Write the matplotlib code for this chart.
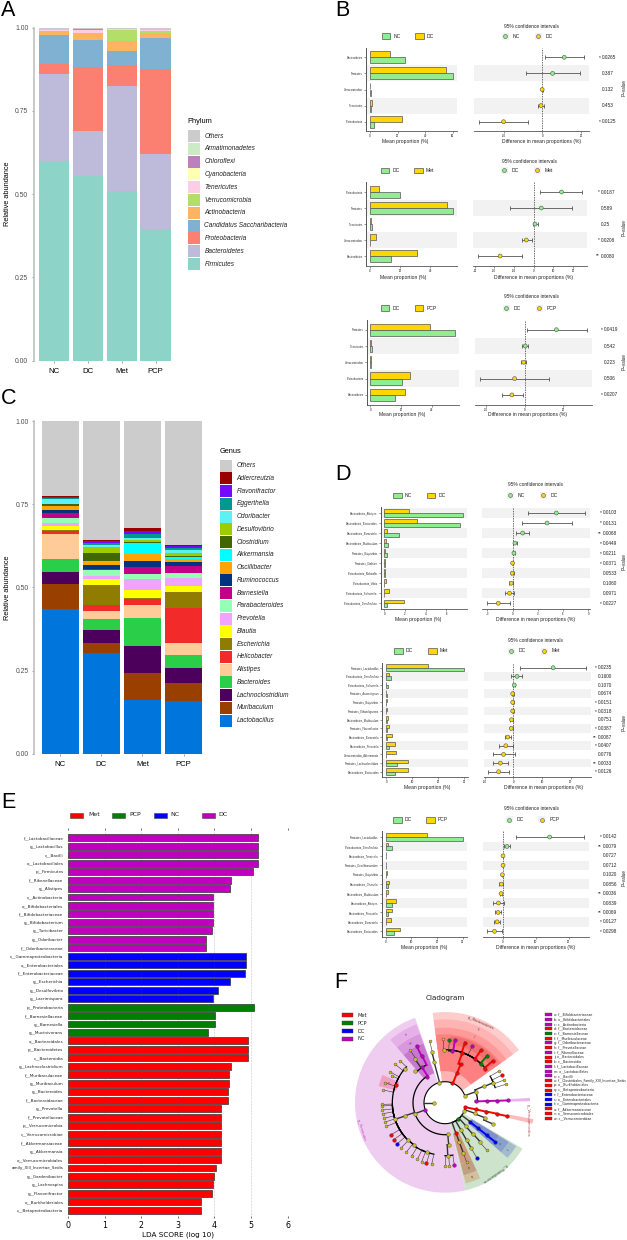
import numpy as np
import matplotlib
matplotlib.use('Agg')
import matplotlib.pyplot as plt
from matplotlib.patches import Rectangle

plt.rcParams['font.family'] = ['Liberation Sans', 'DejaVu Sans']

W, H = 627, 1240
GREEN = '#90EE90'
GOLD = '#FFD700'
BAND = '#F2F2F2'

# panel A
groups = ['NC', 'DC', 'Met', 'PCP']
phyla = ['Firmicutes', 'Bacteroidetes', 'Proteobacteria', 'Candidatus Saccharibacteria', 'Actinobacteria',
         'Verrucomicrobia', 'Tenericutes', 'Cyanobacteria', 'Chloroflexi', 'Armatimonadetes', 'Others']
phyla_colors = ['#8DD3C7', '#BEBADA', '#FB8072', '#80B1D3', '#FDB462', '#B3DE69', '#FCCDE5', '#FFFFB3',
                '#BC80BD', '#CCEBC5', '#CCCCCC']
firmicutes = [.599, .554, .511, .395]
bacteroidetes = [.262, .137, .314, .227]
proteobacteria = [.030, .190, .062, .253]
saccharibacteria = [.087, .083, .043, .095]
actinobacteria = [.012, .020, .030, .015]
verrucomicrobia = [.000, .001, .033, .006]
tenericutes = [.004, .009, .002, .001]
cyanobacteria = [.000, .000, .000, .000]
chloroflexi = [.000, .001, .000, .000]
armatimonadetes = [.000, .001, .000, .000]
phyla_others = [.006, .004, .005, .008]
phyla_values = [firmicutes, bacteroidetes, proteobacteria, saccharibacteria, actinobacteria, verrucomicrobia,
                tenericutes, cyanobacteria, chloroflexi, armatimonadetes, phyla_others]

# panel C, cumulative tops
genera = ['Lactobacillus', 'Muribaculum', 'Lachnoclostridium', 'Bacteroides', 'Alistipes', 'Helicobacter',
          'Escherichia', 'Blautia', 'Prevotella', 'Parabacteroides', 'Barnesiella', 'Ruminococcus',
          'Oscillibacter', 'Akkermansia', 'Clostridium', 'Desulfovibrio', 'Odoribacter', 'Eggerthella',
          'Flavonifractor', 'Adlercreutzia', 'Others']
genera_colors = ['#0075DC', '#993F00', '#4C005C', '#2BCE48', '#FFCC99', '#F22A2A', '#8F7C00', '#FFFF00',
                 '#F0A3FF', '#94FFB5', '#C20088', '#003380', '#FFA405', '#00FFFF', '#426600', '#9DCC00',
                 '#5EF1F2', '#00998F', '#740AFF', '#990000', '#CCCCCC']
tops_nc = [.436, .510, .545, .586, .661, .670, .671, .684, .693, .709, .723, .732, .744, .744, .751, .752,
           .767, .768, .771, .774, 1]
tops_dc = [.302, .334, .372, .406, .430, .447, .507, .525, .534, .552, .554, .567, .577, .578, .603, .621,
           .626, .633, .638, .642, 1]
tops_met = [.161, .242, .325, .408, .447, .464, .468, .492, .524, .541, .561, .579, .600, .632, .635, .642,
            .648, .659, .668, .678, 1]
tops_pcp = [.158, .214, .257, .297, .334, .438, .486, .505, .529, .543, .564, .575, .585, .591, .595, .603,
            .612, .618, .625, .628, 1]

# panel B
b1_names = ['Bacteroidetes', 'Firmicutes', 'Verrucomicrobia', 'Tenericutes', 'Proteobacteria']
b1_a = [25.7, 60.5, 0.8, 0.5, 3]
b1_b = [14.3, 55, 0.1, 1.3, 23]
b1_diff = [11.3, 5.3, -0.1, -0.7, -20]
b1_lo = [1.5, -8.2, -0.4, -2, -32.8]
b1_hi = [21.3, 19.2, 0.2, 1, -7.2]
b1_p = ['* 0.0265', '0.387', '0.132', '0.453', '* 0.0125']

b2_names = ['Proteobacteria', 'Firmicutes', 'Tenericutes', 'Verrucomicrobia', 'Bacteroidetes']
b2_a = [20, 55, 1.3, 0.4, 14]
b2_b = [6, 51, 0.6, 4, 31]
b2_diff = [14.2, 3.9, 0.7, -3.7, -17]
b2_lo = [3.5, -11.9, -0.5, -6.1, -28.3]
b2_hi = [24.7, 19.7, 2.2, -0.7, -5.8]
b2_p = ['* 0.0187', '0.589', '0.25', '* 0.0208', '** 0.0080']

b3_names = ['Firmicutes', 'Tenericutes', 'Verrucomicrobia', 'Proteobacteria', 'Bacteroidetes']
b3_a = [55, 0.9, 0.2, 20.4, 16]
b3_b = [39, 0.7, 0.7, 25.7, 22.4]
b3_diff = [16.4, 0.3, -0.5, -5.2, -6.6]
b3_lo = [1, -1.2, -1.7, -23, -11.9]
b3_hi = [32, 1.9, 0.7, 12.4, -1]
b3_p = ['* 0.0419', '0.542', '0.223', '0.506', '* 0.0207']

# panel D
d1_names = ['Bacteroidetes_Alistipes', 'Bacteroidetes_Bacteroides', 'Bacteroidetes_Barnesiella',
            'Bacteroidetes_Muribaculum', 'Firmicutes_Butyrivibrio', 'Firmicutes_Dialister',
            'Proteobacteria_Klebsiella', 'Proteobacteria_Vibrio', 'Proteobacteria_Salmonella',
            'Proteobacteria_Desulfovibrio']
d1_a = [7.6, 7.3, 1.4, 0.39, 0.23, 0.03, 0.03, 0.01, 0.01, 0.23]
d1_b = [2.4, 3.2, 0.26, 0.13, 0.1, 0.03, 0.06, 0.2, 0.42, 1.9]
d1_diff = [5.2, 4.1, 1.2, 0.28, 0.16, 0, -0.04, -0.16, -0.36, -1.7]
d1_lo = [1.8, 1.15, 0.44, 0, 0.06, -0.03, -0.19, -0.4, -0.87, -3.05]
d1_hi = [8.6, 7.1, 1.9, 0.55, 0.26, 0.03, 0.11, 0.08, 0.12, -0.36]
d1_p = ['* 0.0103', '* 0.0131', '** 0.0068', '* 0.0449', '* 0.0211', '* 0.0371', '0.0533', '0.1060', '0.0971',
        '* 0.0227']

d2_names = ['Firmicutes_Lactobacillus', 'Proteobacteria_Desulfovibrio', 'Proteobacteria_Salmonella',
            'Firmicutes_Anaerotignum', 'Firmicutes_Butyrivibrio', 'Firmicutes_Ethanoligenens',
            'Bacteroidetes_Muribaculum', 'Firmicutes_Flavonifractor', 'Bacteroidetes_Barnesiella',
            'Bacteroidetes_Prevotella', 'Verrucomicrobia_Akkermansia', 'Firmicutes_Lachnoclostridium',
            'Bacteroidetes_Bacteroides']
d2_a = [30, 2, 0.5, 0.2, 0.1, 0.1, 0.2, 0.4, 0.3, 0.9, 0.1, 4, 3.2]
d2_b = [16.2, 0.9, 0.1, 0.1, 0.2, 0.2, 0.7, 1.2, 2.1, 3.3, 3.6, 8.2, 8.2]
d2_diff = [13.9, 1.3, 0.35, -0.2, -0.2, -0.2, -0.6, -0.7, -1.9, -2.6, -3.4, -4.5, -5.1]
d2_lo = [2.4, -0.7, 0.05, -0.5, -0.5, -0.5, -1.1, -1.3, -2.8, -4.8, -7.2, -7, -8.7]
d2_hi = [25.3, 3.1, 0.65, 0.1, 0.1, 0.1, -0.1, -0.1, -0.9, -0.2, 0.5, -2, -1.4]
d2_p = ['* 0.0235', '0.1600', '0.1070', '0.0674', '* 0.0151', '* 0.0318', '0.0751', '* 0.0387', '** 0.0087',
        '* 0.0407', '0.0776', '** 0.0033', '* 0.0126']

d3_names = ['Firmicutes_Lactobacillus', 'Proteobacteria_Desulfovibrio', 'Bacteroidetes_Tannerella',
            'Firmicutes_Desulfitomaculum', 'Firmicutes_Butyrivibrio', 'Bacteroidetes_Olsenella',
            'Bacteroidetes_Muribaculum', 'Bacteroidetes_Alistipes', 'Bacteroidetes_Prevotella',
            'Bacteroidetes_Barnesiella', 'Bacteroidetes_Bacteroides']
d3_a = [30.3, 2.3, 0.1, 0.1, 0.3, 0.8, 0.2, 2.5, 0.9, 0.1, 3.1]
d3_b = [16, 1, 0.1, 0.1, 0.4, 1.1, 0.8, 3.9, 2.3, 2, 5.6]
d3_diff = [14.2, 1.2, 0, 0, -0.2, -0.5, -0.6, -1.4, -1.5, -1.8, -2.6]
d3_lo = [3.8, 0.4, -0.1, -0.1, -0.35, -1.1, -0.8, -3.1, -2.5, -2.9, -4.8]
d3_hi = [24.8, 2, 0.1, 0.1, -0.05, 0.1, -0.4, 0.2, -0.5, -0.8, -0.2]
d3_p = ['* 0.0142', '** 0.0079', '0.0727', '0.0712', '0.1020', '0.0856', '** 0.0036', '0.0839', '** 0.0069',
        '* 0.0127', '* 0.0298']

# panel E
lda_names = ['f__Lactobacillaceae', 'g__Lactobacillus', 'c__Bacilli', 'o__Lactobacillales', 'p__Firmicutes',
             'f__Rikenellaceae', 'g__Alistipes', 'c__Actinobacteria', 'o__Bifidobacteriales',
             'f__Bifidobacteriaceae', 'g__Bifidobacterium', 'g__Turicibacter', 'g__Odoribacter',
             'f__Odoribacteraceae', 'c__Gammaproteobacteria', 'o__Enterobacteriales', 'f__Enterobacteriaceae',
             'g__Escherichia', 'g__Desulfovibrio', 'g__Lacrimispora', 'p__Proteobacteria', 'f__Barnesiellaceae',
             'g__Barnesiella', 'g__Mucinivorans', 'o__Bacteroidales', 'p__Bacteroidetes', 'c__Bacteroidia',
             'g__Lachnoclostridium', 'f__Muribaculaceae', 'g__Muribaculum', 'g__Bacteroides', 'f__Bacteroidaceae',
             'g__Prevotella', 'f__Prevotellaceae', 'p__Verrucomicrobia', 'c__Verrucomicrobiae',
             'f__Akkermansiaceae', 'g__Akkermansia', 'o__Verrucomicrobiales', 'amily_XIII_Incertae_Sedis',
             'g__Gardenibacter', 'g__Lachnospira', 'g__Flavonifractor', 'o__Burkholderiales',
             'c__Betaproteobacteria']
lda_scores = [5.2, 5.2, 5.18, 5.18, 5.05, 4.44, 4.43, 3.95, 3.95, 3.95, 3.95, 3.94, 3.76, 3.76,
              4.85, 4.85, 4.84, 4.43, 4.11, 3.95,
              5.07, 4.03, 4.03, 3.82,
              4.93, 4.93, 4.93, 4.44, 4.39, 4.39, 4.36, 4.36, 4.18, 4.18, 4.17, 4.17, 4.17, 4.17, 4.17,
              4.05, 3.99, 3.95, 3.93, 3.63, 3.63]
lda_groups = ['DC'] * 14 + ['NC'] * 6 + ['PCP'] * 4 + ['Met'] * 21
lda_colors = {'Met': '#FF0000', 'PCP': '#007F00', 'NC': '#0000FF', 'DC': '#BF00BF'}

# panel F
clade_legend = ['a: f__Bifidobacteriaceae', 'b: o__Bifidobacteriales', 'c: c__Actinobacteria', 'd: f__Bacteroidaceae',
                'e: f__Barnesiellaceae', 'f: f__Muribaculaceae', 'g: f__Odoribacteraceae', 'h: f__Prevotellaceae',
                'i: f__Rikenellaceae', 'j: o__Bacteroidales', 'k: c__Bacteroidia', 'l: f__Lactobacillaceae',
                'm: o__Lactobacillales', 'n: c__Bacilli', 'o: f__Clostridiales_Family_XIII_Incertae_Sedis',
                'p: o__Burkholderiales', 'q: c__Betaproteobacteria', 'r: f__Enterobacteriaceae',
                's: o__Enterobacteriales', 't: c__Gammaproteobacteria', 'u: f__Akkermansiaceae',
                'v: o__Verrucomicrobiales', 'w: c__Verrucomicrobiae']
clade_legend_groups = ['DC', 'DC', 'DC', 'Met', 'PCP', 'Met', 'DC', 'Met', 'DC', 'Met', 'Met', 'DC', 'DC', 'DC',
                       'Met', 'Met', 'Met', 'NC', 'NC', 'NC', 'Met', 'Met', 'Met']

# shaded clades: theta from, theta to, inner, outer radius, colour
sector_from = [109.4, 35.4, -76.8, 35.4, 35.4, 35.4, 110, 110, 110, 156, -41.5, -41.5, -41.5, -75.6, -75.6, -75.6,
               -13.5, 1, 38]
sector_to = [283.2, 97.8, -30.6, 97.8, 97.8, 97.8, 131, 131, 131, 166, -31.5, -31.5, -31.5, -65, -65, -65,
             -10.5, 3.2, 85]
sector_inner = [63, 63, 63, 63, 95, 95, 94, 190, 220, 150, 94, 190, 225, 96, 190, 225, 190, 190, 175]
sector_outer = [270, 272, 270, 250, 225, 205, 190, 220, 250, 205, 190, 225, 250, 190, 225, 250, 270, 255, 200]
sector_color = ['#EFCDF0', '#FFCCCC', '#CDE3CC', '#FFB3B3', '#FF9A9A', '#FF8080', '#C878D0', '#D898DE', '#E5B0E8',
                '#F0A0C0', '#7F8FD0', '#8AA0CC', '#A3BBCC', '#D09A80', '#C0A080', '#D0C0A0', '#FFBBBB', '#F0B0F0',
                '#F07070']

# tree paths as (theta, level, group), first entry of a path is its parent
O = 'Other'
tree_paths = [
    [(180, 63, None), (180, 32, O)],
    [(201, 63, None), (201, 64, 'DC'), (200, 96, O)],
    [(200, 96, O), (124, 94, 'DC'), (123, 126, 'DC'), (116, 157, 'DC'), (116.6, 190, 'DC')],
    [(123, 126, 'DC'), (124.5, 159, O), (123.6, 190, O)],
    [(123, 126, 'DC'), (133, 130, O)],
    [(200, 96, O), (275, 94, O), (275, 127, O), (273, 159, O), (270, 189, O)],
    [(273, 159, O), (274, 190, O)],
    [(273, 159, O), (278.5, 189, 'DC')],
    [(200, 96, O), (198, 126, O), (198.4, 158, O), (181.5, 190, O)],
    [(198.4, 158, O), (183, 190, O)], [(198.4, 158, O), (186.7, 190, O)], [(198.4, 158, O), (190, 190, O)],
    [(198.4, 158, O), (194.4, 190, O)], [(198.4, 158, O), (197.9, 190, O)], [(198.4, 158, O), (202, 190, O)],
    [(198.4, 158, O), (210.7, 190, 'Met')], [(198.4, 158, O), (215.8, 190, 'Met')],
    [(198.4, 158, O), (220.7, 190, 'NC')], [(198.4, 158, O), (225.8, 190, O)],
    [(198.4, 158, O), (160, 158, 'Met'), (150.6, 189, O)], [(160, 158, 'Met'), (153, 179, O)],
    [(160, 158, 'Met'), (161.6, 190, O)], [(160, 158, 'Met'), (168.4, 189, O)],
    [(160, 158, 'Met'), (140, 158, O), (142.5, 189, O)], [(140, 158, O), (137, 184, O)],
    [(198.4, 158, O), (225.5, 157, O), (232, 189, O)],
    [(225.5, 157, O), (233.7, 159, O), (238, 189, O)],
    [(233.7, 159, O), (250.4, 158, O), (244, 189, O)], [(250.4, 158, O), (248.4, 190, O)],
    [(250.4, 158, O), (253, 190, 'Met')], [(250.4, 158, O), (257.8, 189, O)],
    [(106, 63, None), (106, 60, O), (105, 126, O), (104.5, 158, O), (104, 191, O)],
    [(70, 63, None), (70, 63, 'Met'), (68, 95, 'Met'), (67.8, 124, 'Met'), (71, 159, 'Met'), (71.6, 190, 'Met')],
    [(71, 159, 'Met'), (91.5, 158, O), (91.5, 190, O)],
    [(71, 159, 'Met'), (82.7, 156, 'DC'), (86, 190, 'PCP')],
    [(82.7, 156, 'DC'), (81, 190, 'DC')],
    [(71, 159, 'Met'), (55.5, 159, 'Met'), (64.3, 190, 'DC')],
    [(55.5, 159, 'Met'), (55.6, 190, 'Met')],
    [(71, 159, 'Met'), (47.3, 158, 'PCP'), (48, 190, 'PCP')],
    [(71, 159, 'Met'), (40.4, 157, 'Met'), (41.2, 190, 'Met')],
    [(18, 63, None), (18, 63, O), (19.7, 98, O), (23, 126, O), (22.5, 157, O), (30.4, 188, O)],
    [(22.5, 157, O), (25.8, 189, 'Met')], [(22.5, 157, O), (21, 190, O)], [(22.5, 157, O), (16.8, 190, O)],
    [(19.7, 98, O), (2.5, 92, 'DC'), (2.3, 125, 'DC'), (2.2, 157, 'DC'), (2.1, 189, 'DC')],
    [(-12, 63, None), (-12, 62, 'Met'), (-12.3, 94, 'Met'), (-12.3, 127, 'Met'), (-12, 158, 'Met'), (-12.2, 189, 'Met')],
    [(-24, 63, None), (-24, 64, O), (-19.6, 96, O), (-20.6, 128, O), (-24, 159, O)],
    [(-51, 63, None), (-51, 63, 'PCP'), (-37, 94, 'NC'), (-37.6, 126, 'NC'), (-37.8, 158, 'NC'), (-38, 190, 'NC')],
    [(-51, 63, 'PCP'), (-48, 95, O), (-48.6, 125, O), (-48, 157, O), (-48.6, 189, O)],
    [(-51, 63, 'PCP'), (-59.7, 95, O), (-60, 130, O), (-60, 158, O), (-60, 190, 'NC')],
    [(-51, 63, 'PCP'), (-70.4, 96, 'Met'), (-70, 127, O), (-70, 160, O), (-70, 190, O)],
]
sector_labels = ['p__Bacteroidetes', 'p__Firmicutes', 'p__Proteobacteria', 'p__Verrucomicrobia', 'k', 'j', 'n', 'm',
                 'o', 't', 's', 'q', 'p']
label_theta = [66, 198, -54.7, -11.7, 66, 66, 120, 120, 161, -36.5, -36.5, -70, -70]
label_r = [262, 263, 260, 255, 240, 218, 235, 205, 178, 238, 208, 238, 208]
label_rot = [-24, -72, 215, -90, -24, -24, 30, 30, 0, 53, 53, 20, 20]
label_color = ['#663333', '#C040C0', '#335533', '#A04050', '#884444', '#884444', '#883388', '#883388', '#883355',
               '#334466', '#334466', '#664433', '#664433']


fig = plt.figure(figsize=(W / 100, H / 100), dpi=100)


def px_axes(x0, x1, y0, y1, **kw):
    return fig.add_axes([x0 / W, 1 - y1 / H, (x1 - x0) / W, (y1 - y0) / H], **kw)


ov = fig.add_axes([0, 0, 1, 1], zorder=10)
ov.set_xlim(0, W)
ov.set_ylim(H, 0)
ov.axis('off')


def stack_axes(x0, x1, y0, y1, xlim):
    ax = px_axes(x0, x1, y0, y1)
    ax.set_xlim(*xlim)
    ax.set_ylim(0, 1)
    for s in ['top', 'right', 'bottom']:
        ax.spines[s].set_visible(False)
    ax.spines['left'].set_color('#BBBBBB')
    ax.spines['left'].set_linewidth(1.1)
    ax.set_yticks([0, .25, .5, .75, 1])
    ax.set_yticklabels(['0.00', '0.25', '0.50', '0.75', '1.00'], fontsize=4.9, color='#4D4D4D')
    ax.set_xticks(range(4))
    ax.set_xticklabels(groups, fontsize=5.6)
    ax.tick_params(axis='y', length=1.6, width=0.4, color='#555555', pad=2.5)
    ax.tick_params(axis='x', length=1.6, width=0.4, color='#555555', pad=4)
    ax.set_ylabel('Relative abundance', fontsize=5.3, labelpad=0)
    ax.yaxis.set_label_coords((11 - x0) / (x1 - x0), 0.5)
    return ax


def italic_legend(x, y, title, labels, colors, step):
    ov.text(x - 0.5, y - 14.5, title, fontsize=5.3, va='center')
    for i, (lab, col) in enumerate(zip(labels, colors)):
        yy = y + step * i
        ov.add_patch(Rectangle((x, yy - 6), 12, 12, fc=col, ec='none'))
        ov.text(x + 16.5, yy, lab, fontsize=4.7, style='italic', color='#222222', va='center')


# A
ax = stack_axes(34, 175, 27.7, 360.7, (-0.59, 3.57))
bottom = np.zeros(4)
for vals, col in zip(phyla_values, phyla_colors):
    ax.bar(range(4), vals, bottom=bottom, width=0.9, color=col)
    bottom += np.array(vals)
italic_legend(188, 136, 'Phylum', phyla[::-1], phyla_colors[::-1], 12.8)

# C
ax = stack_axes(34.3, 205, 421, 753.7, (-0.63, 3.52))
tops = np.array([tops_nc, tops_dc, tops_met, tops_pcp])
prev = np.zeros(4)
for j, col in enumerate(genera_colors):
    ax.bar(range(4), tops[:, j] - prev, bottom=prev, width=0.9, color=col)
    prev = tops[:, j]
italic_legend(220, 465.7, 'Genus', genera[::-1], genera_colors[::-1], 12.75)


def compare_panel(names, a, b, diff, lo, hi, pvals, pair, top, bottom, first, dy, lx, lxlim, lticks, rx, rxlim,
                  rticks, shade_from, p_x, title_y, legend_y, keys, marks, title_x, xlabel_y, xlabel_x, pv_y):
    n = len(names)
    y = np.arange(n)
    ylim = ((bottom - first) / dy, (top - first) / dy)
    left = px_axes(lx[0], lx[1], top, bottom)
    right = px_axes(rx[0], rx[1], top, bottom)
    for ax_, xlim, ticks in [(left, lxlim, lticks), (right, rxlim, rticks)]:
        ax_.set_xlim(*xlim)
        ax_.set_ylim(*ylim)
        ax_.set_xticks(ticks)
        ax_.set_xticklabels([str(t) for t in ticks], fontsize=2)
        ax_.tick_params(length=1.3, width=0.4, pad=1, color='#444444')
        for s in ['top', 'right']:
            ax_.spines[s].set_visible(False)
        ax_.spines['bottom'].set_linewidth(0.6)
        ax_.spines['bottom'].set_color('#555555')
        ax_.spines['left'].set_linewidth(0.7)
        ax_.spines['left'].set_color('#555555')
        for r in y[shade_from::2]:
            ax_.axhspan(r - 0.5, r + 0.5, color=BAND, lw=0, zorder=0)
    left.set_yticks(y)
    left.set_yticklabels(names, fontsize=1.9, color='#333333')
    left.barh(y - 0.19, b, height=0.37, color=GOLD, edgecolor='#555555', linewidth=0.5, zorder=2)
    left.barh(y + 0.19, a, height=0.37, color=GREEN, edgecolor='#555555', linewidth=0.5, zorder=2)
    right.spines['left'].set_visible(False)
    right.set_yticks([])
    right.axvline(0, color='#333333', lw=0.5, ls=(0, (2, 1.5)), zorder=1)
    diff = np.array(diff)
    right.errorbar(diff, y, xerr=[diff - np.array(lo), np.array(hi) - diff], fmt='none', ecolor='#555555',
                   elinewidth=0.6, capsize=1.7, capthick=0.6, zorder=2)
    right.scatter(diff, y, s=8, c=[GREEN if d > 0 else GOLD for d in diff], edgecolors='#555555', linewidths=0.4,
                  zorder=3)
    for r, txt in zip(y, pvals):
        parts = txt.split(' ')
        frac = (p_x - rx[0]) / (rx[1] - rx[0])
        right.text(frac, r, parts[-1], fontsize=3.4, va='center', transform=right.get_yaxis_transform(), color='#222222')
        if len(parts) > 1:
            right.text(frac - 1.2 / (rx[1] - rx[0]), r, parts[0], fontsize=3.4, va='center', ha='right',
                       transform=right.get_yaxis_transform(), color='#222222')
    # titles and legends sit on the overlay
    ov.text(title_x, title_y, '95% confidence intervals', fontsize=3.5, ha='center', va='center', color='#222222')
    for key, name, col in zip(keys, pair, [GREEN, GOLD]):
        ov.add_patch(Rectangle((key, legend_y - 2.8), 8.7, 5.6, fc=col, ec='#555555', lw=0.5))
        ov.text(key + 11.7, legend_y, name, fontsize=3.6, va='center', color='#222222')
    for mark, name, col in zip(marks, pair, [GREEN, GOLD]):
        ov.add_patch(Rectangle((mark - 3.5, legend_y - 3.5), 7, 7, fc=BAND, ec='none'))
        ov.scatter([mark], [legend_y], s=8, c=col, edgecolors='#555555', linewidths=0.4)
        ov.text(mark + 7.5, legend_y, name, fontsize=3.6, va='center', color='#222222')
    ov.text(xlabel_x[0], xlabel_y, 'Mean proportion (%)', fontsize=3.6, ha='center', va='center', color='#222222')
    ov.text(xlabel_x[1], xlabel_y, 'Difference in mean proportions (%)', fontsize=3.6, ha='center', va='center',
            color='#222222')
    ov.text(624, pv_y, 'P\u2212value', fontsize=3.3, rotation=90, ha='center', va='center', color='#222222')


compare_panel(b1_names, b1_a, b1_b, b1_diff, b1_lo, b1_hi, b1_p, ['NC', 'DC'], 48, 131, 57.3, 16.1,
              (365.7, 457), (-3.1, 63.1), [0, 20, 40, 60], (473.7, 588.7), (-35.4, 23.9), [-20, 0, 20], 1, 602,
              27, 36, (381.7, 415), (505.3, 538.3), 531.7, 142, (405, 541), 88)
compare_panel(b2_names, b2_a, b2_b, b2_diff, b2_lo, b2_hi, b2_p, ['DC', 'Met'], 182, 265.7, 192, 16,
              (365.7, 456.7), (-2.6, 57.4), [0, 20, 40], (473, 587.3), (-30.8, 27.3), [-30, -20, -10, 0, 10, 20], 1, 601,
              161.7, 170.3, (380.7, 414.3), (504, 537), 529.3, 277.3, (403, 533), 228)
compare_panel(b3_names, b3_a, b3_b, b3_diff, b3_lo, b3_hi, b3_p, ['DC', 'PCP'], 320, 404.7, 329.7, 16.3,
              (366.7, 459), (-2.4, 57.8), [0, 20, 40], (475.3, 592), (-25.5, 34.8), [-20, 0, 20], 1, 603.7,
              297, 308, (380.7, 414.7), (506, 539.3), 532, 414.7, (402, 527.7), 362)
compare_panel(d1_names, d1_a, d1_b, d1_diff, d1_lo, d1_hi, d1_p, ['NC', 'DC'], 506.7, 609.3, 513, 10.03,
              (380.7, 466.7), (-.35, 7.97), [0, 2, 4, 6], (482.3, 589.7), (-3.6, 9.17), [-3, 0, 3, 6, 9], 0, 603,
              484.3, 495.3, (393.3, 426.7), (510.3, 543.3), 535.3, 620, (417.7, 535), 561.7)
compare_panel(d2_names, d2_a, d2_b, d2_diff, d2_lo, d2_hi, d2_p, ['DC', 'Met'], 662.7, 777.3, 667.7, 8.67,
              (382.3, 467.7), (-1.5, 31.3), [0, 10, 20, 30], (484, 591), (-10.2, 27.1), [-10, 0, 10, 20], 1, 598.3,
              640, 651, (394.3, 428.3), (511, 544.3), 535.3, 788, (427, 543), 723)
compare_panel(d3_names, d3_a, d3_b, d3_diff, d3_lo, d3_hi, d3_p, ['DC', 'PCP'], 831, 937.3, 837, 9.43,
              (381.7, 467), (-1.56, 31.7), [0, 10, 20, 30], (482.7, 589), (-6.2, 26.2), [0, 10, 20], 1, 603,
              808, 819.7, (393, 426), (509, 541.7), 532, 948, (424, 535), 878)

# E
ax = px_axes(68, 287.6, 830, 1216)
rows = np.arange(len(lda_names))
ax.barh(rows, lda_scores, height=0.82, color=[lda_colors[g] for g in lda_groups], edgecolor='#333333', linewidth=0.5,
        zorder=2)
ax.set_xlim(0, 6)
ax.set_ylim(44.67, -0.91)
ax.set_yticks(rows)
ax.set_yticklabels(lda_names, fontsize=3, family='DejaVu Sans', color='#222222')
ax.set_xticks(range(7))
ax.set_xticklabels(range(7), fontsize=5.7, family='DejaVu Sans')
ax.tick_params(axis='y', length=0, pad=3.4)
ax.tick_params(axis='x', length=1.5, width=0.4, top=True, pad=2)
for s in ax.spines.values():
    s.set_visible(False)
for v in range(1, 7):
    ax.axvline(v, color='#555555', lw=0.4, ls=':', alpha=0.6, zorder=3)
ax.set_xlabel('LDA SCORE (log 10)', fontsize=5.2, family='DejaVu Sans', labelpad=1)
for name, kx, lx_ in zip(['Met', 'PCP', 'NC', 'DC'], [70, 112, 153.7, 202], [88, 129.7, 170, 218]):
    ov.add_patch(Rectangle((kx, 812.5), 13, 5, fc=lda_colors[name], ec='#444444', lw=0.4))
    ov.text(lx_, 815, name, fontsize=4.5, family='DejaVu Sans', va='center', color='#222222')

# F, polar radii are in reference units of one third of a pixel
pol = px_axes(345, 545, 1002.7, 1202.7, projection='polar')
pol.set_ylim(0, 300)
pol.set_axis_off()
for t0, t1, r0, r1, col in zip(sector_from, sector_to, sector_inner, sector_outer, sector_color):
    pol.bar(np.radians((t0 + t1) / 2), r1 - r0, width=np.radians(t1 - t0), bottom=r0, color=col, lw=0, zorder=1)
th = np.radians(np.linspace(18, 348, 300))
pol.plot(th, np.full(300, 63), color='black', lw=0.8, zorder=2)
node_colors = {'Other': '#C8C020', **lda_colors}
for path in tree_paths:
    for (t0, r0, g0), (t1, r1, g1) in zip(path[:-1], path[1:]):
        col = 'black' if g1 in (O, None) else node_colors[g1]
        lw = 1.0 if r1 <= 160 else 0.4
        if g1 != O and g0 == g1:
            lw = 1.4
        tt = np.radians(np.linspace(t0, t1, 30))
        pol.plot(tt, np.full(30, r0), color='black', lw=0.9 if r0 < 165 else 0.4, zorder=3)
        pol.plot([np.radians(t1), np.radians(t1)], [r0, r1], color=col if lw == 1.4 else '#333333', lw=lw, zorder=3)
        s = 4.5 if (g1 == O and r1 > 170) else 7
        pol.scatter([np.radians(t1)], [r1], s=s, c=node_colors[g1], edgecolors='#333333', linewidths=0.25, zorder=4)
for txt, t, r, rot, col in zip(sector_labels, label_theta, label_r, label_rot, label_color):
    pol.text(np.radians(t), r, txt, fontsize=2.4, rotation=rot, color=col, ha='center', va='center',
             family='DejaVu Sans', rotation_mode='anchor')

ov.text(445, 998, 'Cladogram', fontsize=5.2, family='DejaVu Sans', ha='center', va='center', color='#222222')
for i, name in enumerate(['Met', 'PCP', 'DC', 'NC']):
    yy = 1015.3 + 7.9 * i
    col = lda_colors[{'Met': 'Met', 'PCP': 'PCP', 'DC': 'NC', 'NC': 'DC'}[name]]
    ov.add_patch(Rectangle((342, yy - 2), 11, 4, fc=col, ec='#444444', lw=0.3))
    ov.text(357, yy, name, fontsize=3.7, family='DejaVu Sans', va='center', color='#222222')
for i, (lab, g) in enumerate(zip(clade_legend, clade_legend_groups)):
    yy = 1014.7 + 4.71 * i
    ov.add_patch(Rectangle((545.3, yy - 1.5), 6.7, 3, fc=lda_colors[g], ec='#444444', lw=0.25))
    ov.text(554.3, yy, lab, fontsize=2.3, family='DejaVu Sans', va='center', color='#222222')

# panel letters
for letter, x, y in [('A', 1, 10.5), ('B', 335.5, 10.5), ('C', 1, 399), ('D', 335.5, 474.5), ('E', 1, 802),
                     ('F', 334.5, 983)]:
    ov.text(x, y, letter, fontsize=15.5, va='center')

fig.savefig('out.png', dpi=100)
